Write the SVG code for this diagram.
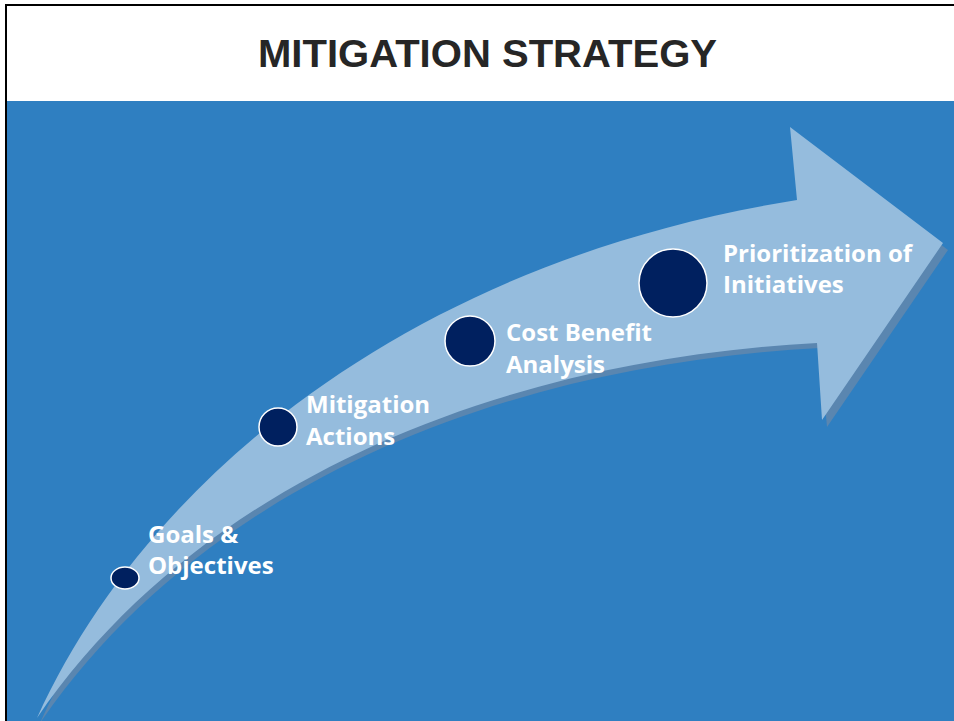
<svg xmlns="http://www.w3.org/2000/svg" width="954" height="721" viewBox="0 0 954 721">
<style>
.lbl{font-family:"Open Sans","Liberation Sans",Arial,sans-serif;font-weight:bold;font-size:24px;fill:#ffffff}
.dot{fill:#00205F;stroke:#ffffff;stroke-width:1.5}
</style>
<rect x="0" y="0" width="954" height="721" fill="#ffffff"/>
<rect x="7" y="101" width="947" height="620" fill="#2F7FC1"/>
<line x1="5" y1="5" x2="954" y2="5" stroke="#000" stroke-width="2"/>
<line x1="6" y1="5" x2="6" y2="721" stroke="#000" stroke-width="2"/>
<text x="258" y="67" textLength="459" lengthAdjust="spacingAndGlyphs" style="font-family:'Liberation Sans',Arial,sans-serif;font-weight:bold;font-size:38px;fill:#262626">MITIGATION STRATEGY</text>
<g id="arrow">
<path d="M37,718 C150,470 420,260 797,200 L790,127 L945,245 L824,422 L817,343 C500,360 200,480 37,718 Z" fill="#5A86B0" transform="translate(3,5)"/>
<path d="M37,718 C150,470 420,260 797,200 L790,127 L943,243 L822,420 L817,343 C500,360 200,480 37,718 Z" fill="#95BCDD"/>
</g>
<g id="n1"><ellipse class="dot" cx="125" cy="578" rx="14" ry="11"/><text class="lbl" x="148" y="543">Goals &amp;</text><text class="lbl" x="148" y="574">Objectives</text></g>
<g id="n2"><circle class="dot" cx="278" cy="427" r="19"/><text class="lbl" x="306" y="413">Mitigation</text><text class="lbl" x="306" y="445">Actions</text></g>
<g id="n3"><circle class="dot" cx="470" cy="341" r="25"/><text class="lbl" x="506" y="341">Cost Benefit</text><text class="lbl" x="506" y="373">Analysis</text></g>
<g id="n4"><circle class="dot" cx="673" cy="283" r="34"/><text class="lbl" x="723" y="262">Prioritization of</text><text class="lbl" x="723" y="293">Initiatives</text></g>
<g id="connectors"/>
</svg>
